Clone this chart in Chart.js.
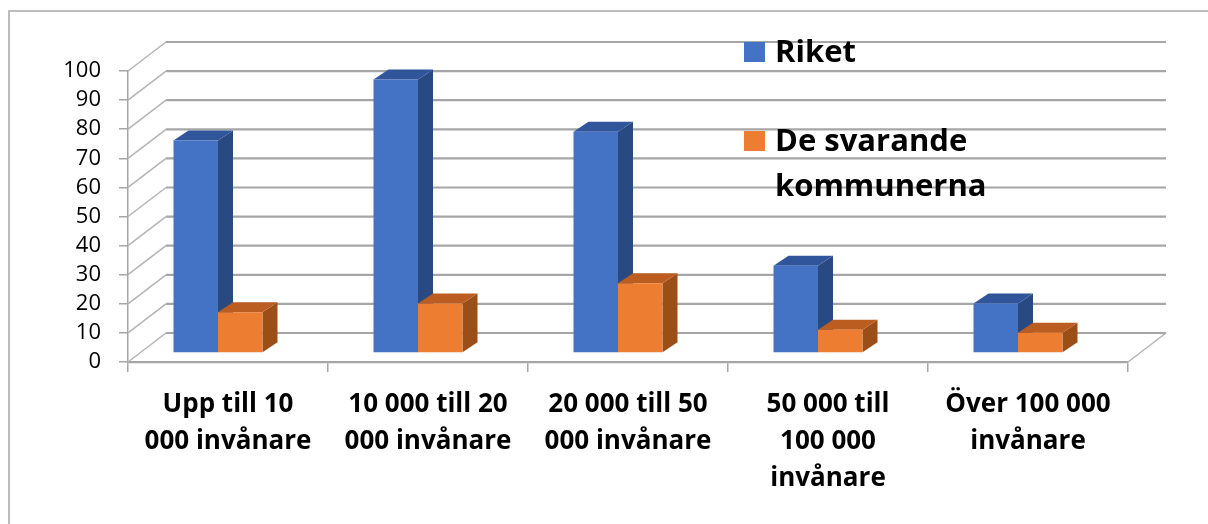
<!DOCTYPE html>
<html>
<head>
<meta charset="utf-8">
<script src="https://cdn.jsdelivr.net/npm/chart.js@4.4.1/dist/chart.umd.min.js"></script>
<style>
  html, body { margin: 0; padding: 0; background: #fff; }
  #wrap { width: 1208px; height: 524px; position: relative; }
</style>
</head>
<body>
<div id="wrap"><canvas id="myChart"></canvas></div>
<script>
// data
const categories = [
  ['Upp till 10', '000 invånare'],
  ['10 000 till 20', '000 invånare'],
  ['20 000 till 50', '000 invånare'],
  ['50 000 till', '100 000', 'invånare'],
  ['Över 100 000', 'invånare']
];
const riket = [73, 94, 76, 30, 17];
const svarande = [14, 17, 24, 8, 7];
const seriesNames = ['Riket', 'De svarande kommunerna'];

// colours: front, top, side
const blue = ['#4472c4', '#31559b', '#294983'];
const orange = ['#ed7d31', '#bb5d21', '#9c4e18'];

const gridGray = '#a6a6a6';
const depthX = 38, depthY = 29;   // back wall offset
const barDX = -10, barDY = -9;    // bars sit half way back
const faceX = 15, faceY = 10;     // bar depth

const fontFam = '"Open Sans", "DejaVu Sans", sans-serif';

// back wall, side wall and floor lines
const wallPlugin = {
  id: 'wall',
  beforeDraw(chart) {
    const ctx = chart.ctx;
    ctx.save();
    ctx.fillStyle = '#fff';
    ctx.fillRect(0, 0, chart.width, chart.height);
    // outer border (only top and left are in frame)
    ctx.strokeStyle = gridGray;
    ctx.lineWidth = 1.5;
    ctx.beginPath();
    ctx.moveTo(9, chart.height + 2);
    ctx.lineTo(9, 11);
    ctx.lineTo(chart.width + 2, 11);
    ctx.stroke();
    ctx.restore();
  },
  beforeDatasetsDraw(chart) {
    const ctx = chart.ctx;
    const ys = chart.scales.y;
    const a = chart.chartArea;
    ctx.save();
    ys.ticks.forEach(t => {
      const y = ys.getPixelForValue(t.value);
      // side wall diagonal
      ctx.strokeStyle = '#b4b4b4';
      ctx.lineWidth = 1.5;
      ctx.beginPath();
      ctx.moveTo(a.left, y);
      ctx.lineTo(a.left + depthX, y - depthY);
      ctx.stroke();
      // back wall line
      ctx.strokeStyle = gridGray;
      ctx.lineWidth = 2.2;
      ctx.beginPath();
      ctx.moveTo(a.left + depthX, y - depthY);
      ctx.lineTo(a.right + depthX, y - depthY);
      ctx.stroke();
    });
    // floor right edge
    const y0 = ys.getPixelForValue(0);
    ctx.strokeStyle = '#b4b4b4';
    ctx.lineWidth = 1.5;
    ctx.beginPath();
    ctx.moveTo(a.right, y0);
    ctx.lineTo(a.right + depthX, y0 - depthY);
    ctx.stroke();
    ctx.restore();

    // bars: shift back and draw top/side faces before the front faces
    ctx.save();
    ctx.translate(barDX, barDY);
    const shades = [blue, orange];
    chart.data.datasets.forEach((ds, i) => {
      const meta = chart.getDatasetMeta(i);
      meta.data.forEach(bar => {
        const p = bar.getProps(['x', 'y', 'base', 'width']);
        const l = p.x - p.width / 2, r = p.x + p.width / 2;
        // side
        ctx.fillStyle = shades[i][2];
        ctx.beginPath();
        ctx.moveTo(r, p.y);
        ctx.lineTo(r + faceX, p.y - faceY);
        ctx.lineTo(r + faceX, p.base - faceY);
        ctx.lineTo(r, p.base);
        ctx.closePath();
        ctx.fill();
        // top
        ctx.fillStyle = shades[i][1];
        ctx.beginPath();
        ctx.moveTo(l, p.y);
        ctx.lineTo(l + faceX, p.y - faceY);
        ctx.lineTo(r + faceX, p.y - faceY);
        ctx.lineTo(r, p.y);
        ctx.closePath();
        ctx.fill();
      });
    });
  },
  afterDatasetsDraw(chart) {
    chart.ctx.restore();
  },
  afterDraw(chart) {
    // legend on the right
    const ctx = chart.ctx;
    ctx.save();
    ctx.font = 'bold 31px ' + fontFam;
    ctx.fillStyle = '#000';
    ctx.textBaseline = 'alphabetic';
    const tops = [42, 131];
    chart.data.datasets.forEach((ds, i) => {
      ctx.fillStyle = ds.backgroundColor;
      ctx.fillRect(744, tops[i], 21, 20);
      ctx.fillStyle = '#000';
      // wrap words
      const words = ds.label.split(' ');
      const lines = [];
      let cur = '';
      words.forEach(w => {
        const test = cur ? cur + ' ' + w : w;
        if (ctx.measureText(test).width > 215 && cur) {
          lines.push(cur);
          cur = w;
        } else {
          cur = test;
        }
      });
      lines.push(cur);
      lines.forEach((ln, k) => {
        ctx.fillText(ln, 775, tops[i] + 20 + k * 45);
      });
    });
    ctx.restore();
  }
};

const ctx = document.getElementById('myChart').getContext('2d');
const myChart = new Chart(ctx, {
  type: 'bar',
  data: {
    labels: categories,
    datasets: [
      { label: seriesNames[0], data: riket, backgroundColor: blue[0] },
      { label: seriesNames[1], data: svarande, backgroundColor: orange[0] }
    ]
  },
  options: {
    responsive: true,
    maintainAspectRatio: false,
    animation: false,
    events: [],
    layout: { padding: { left: 0, right: 80, top: 71, bottom: 0 } },
    datasets: {
      bar: { categoryPercentage: 0.445, barPercentage: 1.0, clip: false, borderWidth: 0 }
    },
    plugins: {
      legend: { display: false },
      tooltip: { enabled: false }
    },
    scales: {
      x: {
        grid: { offset: true, drawOnChartArea: false, drawTicks: true, tickLength: 10, color: gridGray, lineWidth: 1.5 },
        border: { display: true, color: gridGray, width: 2.2 },
        ticks: {
          color: '#000',
          font: { family: fontFam, size: 26, weight: 'bold', lineHeight: '37px' },
          padding: 14,
          maxRotation: 0,
          autoSkip: false
        },
        afterFit(s) { s.height = 162; }
      },
      y: {
        min: 0,
        max: 100,
        grid: { drawOnChartArea: false, drawTicks: true, tickLength: 9, color: gridGray, lineWidth: 1.5 },
        border: { display: true, color: gridGray, width: 1.5 },
        ticks: {
          stepSize: 10,
          autoSkip: false,
          color: '#000',
          font: { family: fontFam, size: 22, lineHeight: 1 },
          padding: 18
        },
        afterFit(s) { s.width = 128; }
      }
    }
  },
  plugins: [wallPlugin]
});
</script>
</body>
</html>
